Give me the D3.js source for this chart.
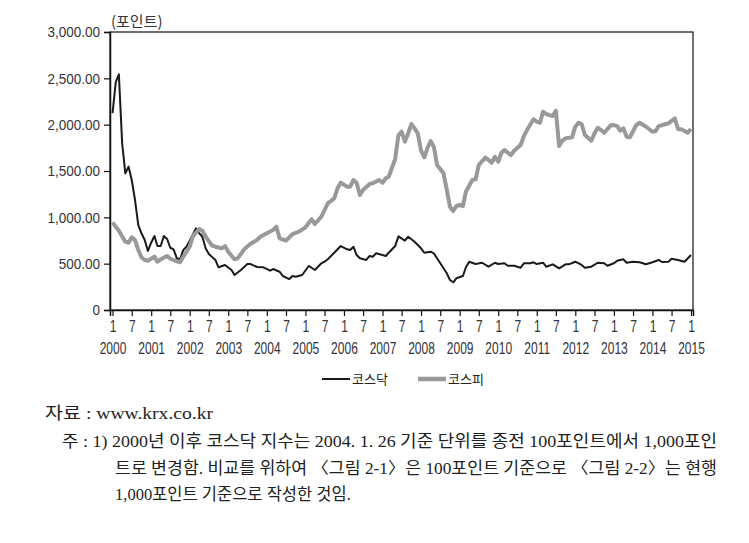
<!DOCTYPE html>
<html>
<head>
<meta charset="utf-8">
<script src="https://cdn.jsdelivr.net/npm/d3@7"></script>
<style>
  body { margin: 0; background: #fff; }
  svg { display: block; }
</style>
</head>
<body>
<svg width="749" height="543"></svg>
<script>
// monthly readings (points)
const kosdaqDates = [
  "2000-01","2000-02","2000-03","2000-04","2000-05","2000-06","2000-07","2000-08","2000-09","2000-10","2000-11","2000-12",
  "2001-01","2001-02","2001-03","2001-04","2001-05","2001-06","2001-07","2001-08","2001-09","2001-10","2001-11","2001-12",
  "2002-01","2002-03","2002-04","2002-05","2002-06","2002-07","2002-09","2002-10","2002-12",
  "2003-02","2003-03","2003-05","2003-07","2003-08","2003-10","2003-12",
  "2004-02","2004-03","2004-05","2004-06","2004-08","2004-09","2004-10","2004-12",
  "2005-02","2005-03","2005-04","2005-06","2005-07","2005-08","2005-10","2005-12",
  "2006-02","2006-03","2006-04","2006-05","2006-06","2006-08","2006-09","2006-10","2006-11",
  "2007-01","2007-02","2007-03","2007-05","2007-06","2007-08","2007-09","2007-11",
  "2008-01","2008-02","2008-04","2008-05","2008-06","2008-08","2008-09","2008-10","2008-11","2008-12",
  "2009-02","2009-03","2009-04","2009-06","2009-08","2009-10","2009-12",
  "2010-01","2010-03","2010-04","2010-06","2010-08","2010-09","2010-11","2010-12",
  "2011-01","2011-03","2011-04","2011-06","2011-08","2011-10","2011-11",
  "2012-01","2012-03","2012-04","2012-06","2012-08","2012-10","2012-11",
  "2013-01","2013-02","2013-04","2013-05","2013-07","2013-09","2013-11",
  "2014-01","2014-03","2014-04","2014-06","2014-07","2014-09","2014-11",
  "2015-01"
];
const kosdaqValues = [
  2125,2463,2543,1802,1475,1547,1403,1187,917,828,755,637,
  726,798,690,690,798,766,672,655,558,547,647,683,
  748,881,828,791,666,604,540,461,486,
  432,378,432,496,496,464,461,
  424,442,413,367,334,367,359,378,
  475,456,432,504,521,547,618,690,
  655,647,683,593,558,540,583,575,612,
  593,583,618,690,795,748,791,737,
  666,618,629,612,558,450,396,324,299,342,
  367,461,521,496,510,467,510,
  496,504,478,478,456,504,504,515,
  496,510,467,493,450,493,493,
  521,486,456,467,510,504,478,
  504,532,547,510,521,515,493,
  515,540,518,521,553,540,521,
  593
];

const kospiDates = [
  "2000-01","2000-02","2000-03","2000-05","2000-06","2000-07","2000-08","2000-09","2000-10","2000-11","2000-12",
  "2001-02","2001-03","2001-04","2001-06","2001-07","2001-09","2001-10","2001-11",
  "2002-01","2002-02","2002-04","2002-05","2002-06","2002-08","2002-09","2002-11","2002-12",
  "2003-01","2003-03","2003-04","2003-06","2003-08","2003-10","2003-11",
  "2004-01","2004-03","2004-04","2004-05","2004-07","2004-09","2004-11",
  "2005-01","2005-03","2005-04","2005-06","2005-08","2005-10","2005-11","2005-12",
  "2006-02","2006-03","2006-04","2006-05","2006-06","2006-07","2006-09","2006-10","2006-12",
  "2007-01","2007-02","2007-03","2007-05","2007-06","2007-07","2007-08","2007-09","2007-10","2007-11","2007-12",
  "2008-01","2008-02","2008-03","2008-04","2008-05","2008-06","2008-08","2008-09","2008-10","2008-11","2008-12",
  "2009-01","2009-02","2009-03","2009-05","2009-06","2009-07","2009-09","2009-10","2009-11","2009-12",
  "2010-01","2010-02","2010-03","2010-05","2010-06","2010-08","2010-09","2010-10","2010-12",
  "2011-01","2011-02","2011-03","2011-04","2011-06","2011-07","2011-08","2011-09","2011-10","2011-12",
  "2012-01","2012-02","2012-03","2012-04","2012-06","2012-07","2012-08","2012-09","2012-10","2012-12",
  "2013-01","2013-02","2013-03","2013-04","2013-05","2013-06","2013-08","2013-09","2013-11",
  "2014-01","2014-02","2014-03","2014-05","2014-06","2014-08","2014-09","2014-10","2014-12",
  "2015-01"
];
const kospiValues = [
  946,899,856,737,726,784,755,647,569,540,532,
  575,521,547,583,553,525,515,575,
  683,798,874,856,791,694,683,666,690,
  629,547,558,655,715,755,791,
  828,863,899,774,748,820,845,
  892,979,928,1007,1151,1205,1313,1374,
  1330,1330,1403,1374,1241,1295,1360,1367,1403,
  1374,1421,1438,1630,1888,1924,1816,1906,2007,1960,1906,
  1719,1648,1745,1824,1762,1565,1475,1295,1115,1068,1122,
  1133,1122,1277,1403,1410,1565,1644,1619,1590,1654,
  1600,1697,1726,1672,1719,1780,1877,1942,2058,
  2032,2021,2140,2115,2093,2150,1770,1827,1853,1863,
  1978,2021,2007,1888,1827,1906,1967,1942,1913,1993,
  1996,1985,1935,1960,1870,1863,1996,2021,1978,
  1924,1931,1985,2004,2014,2068,1950,1950,1913,
  1953
];

const yTicks = [0, 500, 1000, 1500, 2000, 2500, 3000];
const seriesNames = ["코스닥", "코스피"];
const unitLabel = "(포인트)";
const notes = [
  "자료 : www.krx.co.kr",
  "주 : 1) 2000년 이후 코스닥 지수는 2004. 1. 26 기준 단위를 종전 100포인트에서 1,000포인",
  "트로 변경함. 비교를 위하여 〈그림 2-1〉은 100포인트 기준으로 〈그림 2-2〉는 현행",
  "1,000포인트 기준으로 작성한 것임."
];

const parse = d3.timeParse("%Y-%m");
const kosdaq = kosdaqDates.map((d, i) => ({ date: parse(d), value: kosdaqValues[i] }));
const kospi = kospiDates.map((d, i) => ({ date: parse(d), value: kospiValues[i] }));

const plot = { left: 110, right: 693, top: 32, bottom: 310 };
const svg = d3.select("svg");

const x = d3.scaleTime()
  .domain([new Date(1999, 11, 8), new Date(2015, 0, 20)])
  .range([plot.left, plot.right]);

const y = d3.scaleLinear()
  .domain([0, 3000])
  .range([plot.bottom, plot.top]);

const axisFont = "'Liberation Sans', Arial, sans-serif";
const textColor = "#33333b";

// squeeze text a bit, the original uses a condensed face
function condense(sel, k) {
  sel.each(function() {
    const len = this.getComputedTextLength();
    d3.select(this).attr("textLength", len * k).attr("lengthAdjust", "spacingAndGlyphs");
  });
}

// frame
svg.append("rect")
  .attr("x", plot.left)
  .attr("y", plot.top)
  .attr("width", plot.right - plot.left)
  .attr("height", plot.bottom - plot.top)
  .attr("fill", "none")
  .attr("stroke", "#111")
  .attr("stroke-width", 1.2);

// y axis
const yAxis = svg.append("g")
  .attr("transform", `translate(${plot.left},0)`)
  .call(d3.axisLeft(y)
    .tickValues(yTicks)
    .tickSize(6)
    .tickPadding(4)
    .tickFormat(d => d === 0 ? "0" : d3.format(",.2f")(d)));

yAxis.select(".domain").attr("stroke", "#111").attr("stroke-width", 1.5);
yAxis.selectAll(".tick line").attr("stroke", "#111").attr("stroke-width", 1.2);
yAxis.selectAll(".tick text")
  .attr("fill", textColor)
  .style("font-family", axisFont)
  .style("font-size", "15px")
  .call(condense, 0.9);

// x axis: Jan and Jul ticks
const tickDates = d3.timeMonth.every(6).range(new Date(2000, 0, 1), new Date(2015, 0, 2));

const xAxis = svg.append("g")
  .attr("transform", `translate(0,${plot.bottom})`)
  .call(d3.axisBottom(x)
    .tickValues(tickDates)
    .tickSize(6)
    .tickPadding(5)
    .tickFormat(d => d.getMonth() + 1));

xAxis.select(".domain").attr("stroke", "#111").attr("stroke-width", 1.5);
xAxis.selectAll(".tick line").attr("stroke", "#111").attr("stroke-width", 1.2);
xAxis.selectAll(".tick text")
  .attr("fill", textColor)
  .style("font-family", axisFont)
  .style("font-size", "16px")
  .call(condense, 0.75);

xAxis.selectAll(".tick")
  .filter(d => d.getMonth() === 0)
  .append("text")
  .attr("y", 44)
  .attr("fill", textColor)
  .attr("text-anchor", "middle")
  .style("font-family", axisFont)
  .style("font-size", "16px")
  .text(d => d.getFullYear())
  .call(condense, 0.75);

// unit label
svg.append("text")
  .attr("x", plot.left + 1)
  .attr("y", 27)
  .attr("fill", textColor)
  .style("font-family", "'Noto Sans CJK KR', sans-serif")
  .style("font-size", "15px")
  .text(unitLabel);

// lines
const line = d3.line()
  .x(d => x(d.date))
  .y(d => y(d.value));

svg.append("path")
  .datum(kosdaq)
  .attr("fill", "none")
  .attr("stroke", "#1a1a1a")
  .attr("stroke-width", 2)
  .attr("stroke-linejoin", "round")
  .attr("d", line);

svg.append("path")
  .datum(kospi)
  .attr("fill", "none")
  .attr("stroke", "#999999")
  .attr("stroke-width", 4)
  .attr("stroke-linejoin", "round")
  .attr("d", line);

// legend
const legend = svg.append("g").attr("transform", "translate(322,379)");
const legendItems = [
  { name: seriesNames[0], color: "#1a1a1a", width: 2, dx: 0 },
  { name: seriesNames[1], color: "#999999", width: 4.5, dx: 96 }
];
const li = legend.selectAll("g")
  .data(legendItems)
  .enter().append("g")
  .attr("transform", d => `translate(${d.dx},0)`);
li.append("line")
  .attr("x1", 0).attr("x2", 28)
  .attr("stroke", d => d.color)
  .attr("stroke-width", d => d.width);
li.append("text")
  .attr("x", 30)
  .attr("y", 5)
  .attr("fill", "#222")
  .style("font-family", "'Noto Sans CJK KR', sans-serif")
  .style("font-size", "13px")
  .text(d => d.name);

// notes
const noteLayout = [
  { x: 45, y: 419, w: 168 },
  { x: 62, y: 447, w: 655 },
  { x: 115, y: 474, w: 602 },
  { x: 115, y: 500, w: null }
];
svg.append("g")
  .selectAll("text")
  .data(notes)
  .enter().append("text")
  .attr("x", (d, i) => noteLayout[i].x)
  .attr("y", (d, i) => noteLayout[i].y)
  .attr("fill", "#222")
  .style("font-family", "'Liberation Serif', 'Noto Sans CJK KR', serif")
  .style("font-size", "16.5px")
  .text(d => d)
  .each(function(d, i) {
    if (noteLayout[i].w) {
      d3.select(this).attr("textLength", noteLayout[i].w).attr("lengthAdjust", "spacingAndGlyphs");
    }
  });
</script>
</body>
</html>
